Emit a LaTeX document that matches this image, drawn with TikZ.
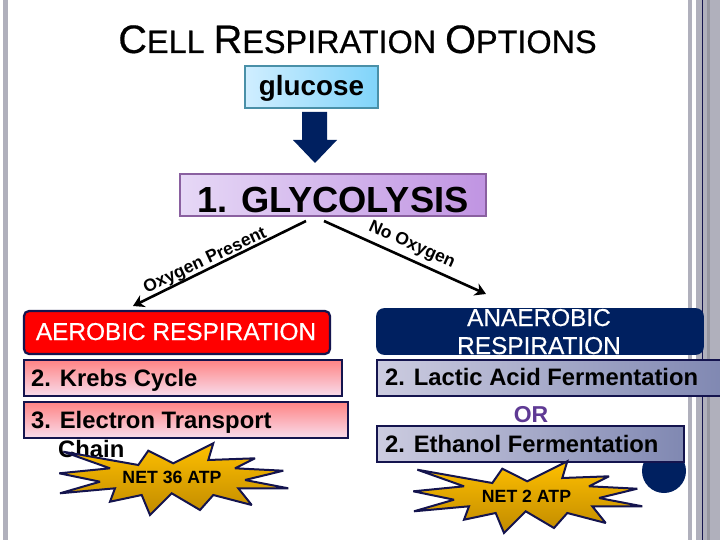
\documentclass[tikz,border=0pt]{standalone}
\usepackage{fontspec}
\setmainfont{Liberation Sans}
\newfontfamily\heavy[FakeBold=0.5]{Liberation Sans}
\usetikzlibrary{arrows.meta}
\definecolor{navy}{HTML}{002060}
\definecolor{edge}{HTML}{14144E}
\definecolor{stripe}{HTML}{B0B0BC}
\definecolor{slateL}{HTML}{CCCCE0}
\definecolor{slateR}{HTML}{8088B2}
\definecolor{goldT}{HTML}{FFC000}
\definecolor{goldB}{HTML}{C08A00}
\definecolor{pinkT}{HTML}{FF8484}
\definecolor{pinkB}{HTML}{F8DCEC}
\definecolor{orpurple}{HTML}{5F3A94}
\definecolor{gluL}{HTML}{D0EEFF}
\definecolor{gluR}{HTML}{80D4FA}
\definecolor{gluE}{HTML}{4A90A8}
\definecolor{glyL}{HTML}{E6D8F6}
\definecolor{glyR}{HTML}{C094E2}
\definecolor{glyE}{HTML}{8A60A0}
\newcommand{\fs}[1]{\fontsize{#1}{#1}\selectfont}
\tikzset{
  box/.style={draw=edge,line width=1.6pt,inner sep=0pt,anchor=north west,outer sep=0pt},
  pinkbox/.style={box,top color=pinkT,bottom color=pinkB},
  slatebox/.style={box,left color=slateL,right color=slateR},
  lab/.style={font=\bfseries\fs{23.8},text=black,inner sep=0pt,anchor=base west},
  flow/.style={line width=2.6pt,-{Stealth[length=11pt,width=13pt]}},
  rot/.style={font=\bfseries\fs{17.5},inner sep=0pt,anchor=base},
  burst/.style={draw=edge,line width=2pt,miter limit=3,top color=goldT,bottom color=goldB},
  burstlab/.style={font=\bfseries\fs{17.7},inner sep=0pt,anchor=base},
  head/.style={font=\heavy\fs{24.4},inner sep=0pt,anchor=base,text=white},
}
\newcommand{\burstpath}{(213.3,83.3) -- (208.3,100) -- (255,98.3) -- (235,108.3) -- (283.3,110.7) -- (245,120) -- (288.3,128.3) -- (238.3,128.3) -- (251.7,145) -- (213.3,135) -- (200,150) -- (171.7,133.3) -- (150,155) -- (141.7,135) -- (110,141.7) -- (115,128.3) -- (60,133.3) -- (100,121.7) -- (59.3,113.3) -- (110,108.3) -- (63.3,91.7) -- (138.3,105) -- (148.3,90.7) -- (173.3,103.3) -- cycle}
\begin{document}
\begin{tikzpicture}[x=1pt,y=-1pt]
\useasboundingbox (0,0) rectangle (720,540);
\fill[white] (0,0) rectangle (720,540);
% slide frame
\fill[stripe] (3,0) rectangle (8,540);
\fill[stripe] (688,0) rectangle (692,540);
\fill[stripe] (696,0) rectangle (720,540);
\fill[stripe!85!black] (707,0) rectangle (710,540);
\draw[edge,line width=1pt] (702,0) -- (702,540);
% title
\node[inner sep=0pt,anchor=base,font=\heavy] (title) at (357.5,53) {\fs{39.7}C\fs{32.4}ELL \fs{39.7}R\fs{32.4}ESPIRATION \fs{39.7}O\fs{32.4}PTIONS};
% glucose
\node[box,draw=gluE,left color=gluL,right color=gluR,minimum width=133pt,minimum height=42pt] (glucose) at (245,66) {};
\node[inner sep=0pt,anchor=base,font=\bfseries\fs{27.8}] (glucosetext) at (311.5,96) {glucose};
% block arrow
\fill[navy] (302,112) -- (327,112) -- (327,140) -- (337,140) -- (315,163) -- (293,140) -- (302,140) -- cycle;
% glycolysis
\node[box,draw=glyE,left color=glyL,right color=glyR,minimum width=306pt,minimum height=42pt] (glyc) at (180,174) {};
\node[inner sep=0pt,anchor=base,font=\bfseries\fs{36.3}] (glyctext) at (333,212) {1. GLYCOLYSIS};
% free ends
\coordinate (aFrom) at (306,221);
\coordinate (aTo) at (133,306);
\coordinate (bFrom) at (324,221);
\coordinate (bTo) at (486,294);
\draw[flow] (aFrom) -- (aTo);
\draw[flow] (bFrom) -- (bTo);
\node[rot,rotate=25] (oxy) at (207,265) {Oxygen Present};
\node[rot,rotate=-24] (nooxy) at (410,249) {No Oxygen};
% aerobic column
\node[box,rounded corners=5pt,fill=red,line width=2.2pt,minimum width=306pt,minimum height=43pt] (aer) at (24,311) {};
\node[head] (aertext) at (176,340) {AEROBIC RESPIRATION};
\node[pinkbox,minimum width=318pt,minimum height=36pt] (krebs) at (24,360) {};
\node[lab] (krebstext) at (31,386) {2. Krebs Cycle};
\node[pinkbox,minimum width=324pt,minimum height=36pt] (etc) at (24,402) {};
\node[lab] (etctext) at (31,428) {3. Electron Transport};
\node[lab] (chain) at (58,457) {Chain};
\begin{scope}[shift={(0,360)}]
\path[burst] \burstpath;
\end{scope}
\node[burstlab] (atpa) at (172,483) {NET 36 ATP};
% anaerobic column
\node[box,rounded corners=7pt,fill=navy,draw=navy,minimum width=326pt,minimum height=45pt] (ana) at (377,309) {};
\node[head] (anatext) at (539,326) {ANAEROBIC};
\node[head] (anatextb) at (539,354) {RESPIRATION};
\node[slatebox,minimum width=345pt,minimum height=36pt] (lactic) at (377,360) {};
\node[lab] (lactictext) at (385,385) {2. Lactic Acid Fermentation};
\node[inner sep=0pt,anchor=base,font=\bfseries\fs{23},text=orpurple] (ortext) at (531,422) {OR};
\fill[navy] (664,471) circle (22);
\node[slatebox,minimum width=307pt,minimum height=36pt] (eth) at (377,426) {};
\node[lab] (ethtext) at (385,452) {2. Ethanol Fermentation};
\begin{scope}[shift={(354,378)}]
\path[burst] \burstpath;
\end{scope}
\node[burstlab] (atpb) at (526.5,502) {NET 2 ATP};
\end{tikzpicture}
\end{document}
